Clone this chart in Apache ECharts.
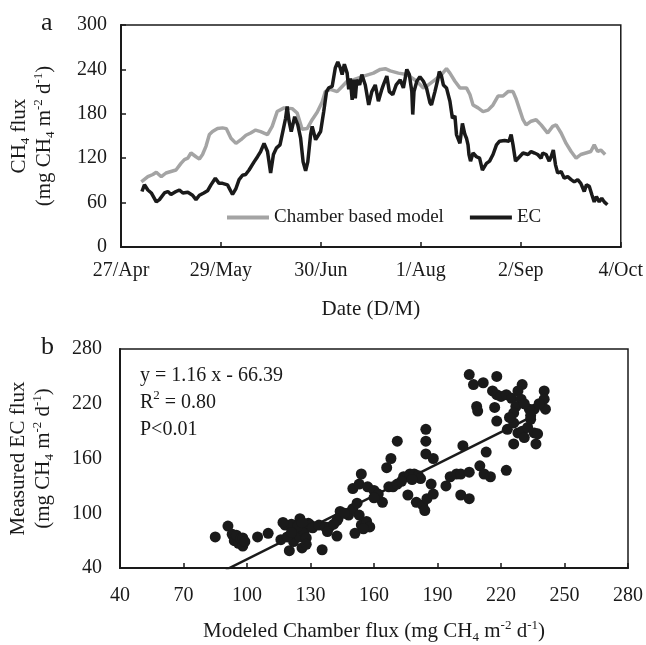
<!DOCTYPE html>
<html>
<head>
<meta charset="utf-8">
<script src="https://cdn.jsdelivr.net/npm/echarts@6/dist/echarts.min.js"></script>
<style>
html, body { margin: 0; padding: 0; background: #fff; }
#main { width: 646px; height: 645px; }
</style>
</head>
<body>
<div id="main"></div>
<script>
// days counted from 27/Apr
var dateLabels = ['27/Apr', '29/May', '30/Jun', '1/Aug', '2/Sep', '4/Oct'];

var chamberDay = [6.5, 8.6, 10.2, 11.3, 12.9, 14.4, 16.0, 17.6, 19.2, 20.3, 21.4, 22.4, 24.0, 25.1, 26.1, 27.2, 28.3, 29.3, 30.9, 32.5,
    33.7, 35.2, 36.8, 38.4, 40.0, 41.5, 43.1, 44.7, 46.9, 48.4, 50.0, 52.2, 54.8, 56.4, 58.0, 59.6, 61.2, 62.8, 64.4, 65.4,
    67.0, 69.2, 70.8, 72.4, 74.5, 77.7, 80.8, 83.0, 84.6, 86.2, 88.8, 91.5, 94.7, 96.8, 98.4, 100.5, 102.6, 104.2, 105.3, 106.9,
    108.5, 110.6, 111.7, 112.7, 114.3, 115.9, 117.5, 119.1, 120.7, 122.3, 123.9, 125.5, 126.5, 127.6, 128.7, 129.7, 131.3, 132.9, 134.5, 136.6,
    138.2, 139.3, 140.9, 142.5, 144.1, 145.7, 147.2, 148.8, 150.4, 151.5, 152.6, 153.6, 155.0];
var chamberFlux = [88, 95, 98, 101, 95, 100, 102, 104, 113, 118, 120, 127, 122, 119, 125, 136, 152, 156, 160, 161,
    160, 147, 140, 145, 151, 154, 158, 156, 152, 163, 183, 188, 187, 181, 159, 160, 172, 182, 196, 210,
    213, 210, 217, 224, 226, 231, 235, 240, 241, 238, 235, 233, 224, 215, 219, 226, 233, 241, 235, 224,
    215, 215, 206, 192, 188, 183, 185, 192, 204, 204, 210, 210, 200, 186, 172, 165, 170, 172, 165, 154,
    163, 165, 154, 140, 129, 120, 125, 127, 129, 138, 129, 131, 125];

var ecDay = [6.7, 7.5, 8.6, 9.7, 11.3, 12.3, 13.9, 15.0, 16.0, 17.6, 18.7, 19.8, 21.4, 22.9, 24.0, 25.1, 26.5, 27.7, 28.8, 30.2,
    31.4, 32.5, 34.1, 35.2, 35.7, 36.8, 37.8, 38.9, 39.9, 41.0, 42.6, 43.7, 44.7, 45.8, 46.9, 47.9, 48.8, 49.8, 50.9, 51.9,
    52.7, 53.2, 53.8, 54.5, 55.6, 56.6, 57.5, 58.3, 59.1, 59.8, 60.7, 61.2, 62.3, 63.3, 63.9, 64.9, 65.8, 66.5, 67.6, 68.6,
    69.4, 70.2, 70.8, 71.5, 72.4, 72.9, 73.4, 74.0, 74.5, 75.0, 75.5, 76.4, 77.1, 78.2, 79.3, 80.3, 81.4, 82.4, 83.5, 84.0,
    85.1, 85.9, 87.0, 88.1, 89.4, 90.4, 91.5, 92.3, 93.1, 93.4, 93.8, 94.7, 95.7, 96.8, 97.8, 98.9, 99.4, 100.5, 101.4, 101.9,
    102.6, 103.2, 104.2, 105.3, 106.1, 106.9, 107.4, 108.5, 109.3, 110.1, 110.6, 111.1, 111.4, 111.9, 112.7, 113.8, 114.8, 115.7, 117.0, 118.0,
    119.1, 120.2, 121.2, 122.8, 124.2, 124.9, 125.5, 126.3, 127.6, 128.7, 130.3, 131.3, 132.4, 133.4, 134.5, 135.0, 136.1, 137.1, 137.7, 138.4,
    139.1, 139.8, 140.9, 141.9, 143.0, 144.1, 145.1, 146.2, 147.2, 148.3, 149.0, 149.9, 150.8, 151.5, 152.2, 153.1, 153.9, 154.7, 155.7];
var ecFlux = [75, 84, 77, 73, 61, 64, 73, 75, 71, 75, 77, 73, 74, 70, 64, 70, 73, 76, 84, 93,
    86, 86, 84, 75, 71, 79, 91, 97, 98, 104, 115, 122, 129, 140, 129, 100, 125, 134, 138, 158,
    174, 190, 170, 156, 176, 165, 147, 115, 103, 115, 152, 163, 145, 152, 156, 183, 210, 215, 217, 242,
    250, 242, 233, 247, 235, 213, 228, 199, 226, 201, 226, 219, 233, 219, 192, 210, 219, 197, 213, 219,
    231, 210, 206, 219, 226, 215, 240, 233, 210, 179, 210, 224, 230, 224, 215, 195, 192, 210, 226, 237,
    231, 219, 215, 197, 174, 177, 152, 140, 167, 152, 147, 138, 125, 116, 127, 122, 120, 104, 113, 116,
    125, 138, 143, 144, 143, 152, 138, 116, 122, 127, 125, 129, 127, 125, 120, 127, 125, 116, 122, 131,
    111, 100, 102, 93, 95, 91, 88, 91, 86, 75, 84, 82, 70, 61, 68, 61, 66, 61, 57];

// panel b: modeled chamber flux (x) vs measured EC flux (y)
var modeledX = [85, 91, 93, 94, 95, 96, 97, 98, 98, 99, 105, 110,
    116, 118, 121, 120, 122, 123, 125, 125, 126, 127, 128, 129, 130, 131, 128, 124, 119, 121, 126, 117,
    134, 135.5, 137, 139, 142.5, 142.5, 144, 143, 148, 150, 152, 150, 153, 154, 153, 154, 156.5, 158, 151, 155, 157, 160, 162, 164, 160, 146, 138, 141,
    167, 169, 171, 166, 168, 171, 174, 177, 179, 181, 176, 180, 183, 184, 185, 188, 187, 184.5, 184.5, 184.5, 188, 182, 173, 178,
    194, 196, 199, 201, 202, 201, 205, 205, 205, 207, 211.6, 208.5, 209, 213, 210, 212, 215,
    218, 216, 218, 220, 222.5, 225, 230, 228, 229.5, 227, 217, 218, 222.5, 223, 226, 226, 228, 230, 231, 232.6, 234, 235.7, 235.7, 236.5, 237.3, 233.4, 234, 240.4, 240.4, 241, 226, 231, 238, 224];
var measuredY = [74, 86, 77, 70, 76, 67, 72, 64, 73, 69, 74, 78,
    71, 87, 88, 59, 69, 78, 74, 94, 62, 80, 73, 89, 87, 84, 66, 86, 74, 79, 90, 90,
    87, 60, 85, 85, 92, 75, 102, 94, 98, 105, 111, 127, 132, 143, 98, 87, 91, 85, 78, 83, 129, 125, 121, 112, 117, 100, 80, 88,
    129, 129, 132, 150, 160, 179, 140, 143, 143, 141, 120, 112, 109, 103, 116, 121, 132, 165, 179, 192, 160, 138, 135, 137,
    130, 140, 143, 143, 174, 120, 116, 145, 252, 241, 243, 217, 212, 167, 152, 143, 140,
    250, 234, 230, 228, 230, 226, 241, 234, 225, 217, 216, 201, 147, 192, 199, 176, 188, 190, 183, 194, 203, 214, 188, 176, 187, 214, 207, 234, 225, 214, 210, 220, 220, 205];

var fitSlope = 1.16;
var fitIntercept = -66.39;
var fitRange = [90, 232.5];

var serif = 'Liberation Serif';
var ink = '#1a1a1a';

var chartDom = document.getElementById('main');
var myChart = echarts.init(chartDom);

var richUnits = {
    n: { fontFamily: serif, fontSize: 21, color: ink, lineHeight: 25 },
    sub: { fontFamily: serif, fontSize: 13, color: ink, verticalAlign: 'bottom', lineHeight: 15 },
    sup: { fontFamily: serif, fontSize: 13, color: ink, verticalAlign: 'top', lineHeight: 15 }
};

var chamberData = chamberDay.map(function (d, i) { return [d, chamberFlux[i]]; });
var ecData = ecDay.map(function (d, i) { return [d, ecFlux[i]]; });
var scatterData = modeledX.map(function (x, i) { return [x, measuredY[i]]; });
var fitData = fitRange.map(function (x) { return [x, fitSlope * x + fitIntercept]; });

function frameAxis(extra) {
    var base = {
        axisLine: { show: true, onZero: false, lineStyle: { color: ink, width: 2 } },
        axisTick: { show: true, inside: true, length: 5, lineStyle: { color: ink, width: 1.5 } },
        splitLine: { show: false },
        axisLabel: { fontFamily: serif, fontSize: 20, color: ink },
        nameLocation: 'middle',
        nameTextStyle: { fontFamily: serif, fontSize: 21, color: ink, rich: richUnits }
    };
    for (var k in extra) {
        if (k === 'axisLabel') {
            for (var j in extra[k]) base.axisLabel[j] = extra[k][j];
        } else {
            base[k] = extra[k];
        }
    }
    return base;
}

var option = {
    animation: false,
    backgroundColor: '#fff',
    title: [
        { text: 'a', left: 36, top: 5, textStyle: { fontFamily: serif, fontSize: 26, fontWeight: 'normal', color: ink } },
        { text: 'b', left: 36, top: 329, textStyle: { fontFamily: serif, fontSize: 26, fontWeight: 'normal', color: ink } }
    ],
    grid: [
        { left: 121, top: 25, width: 502, height: 222, show: true, borderColor: ink, borderWidth: 1.5 },
        { left: 120, top: 349, width: 515, height: 221, show: true, borderColor: ink, borderWidth: 1.5 }
    ],
    legend: {
        data: ['Chamber based model', 'EC'],
        left: 222, top: 203,
        icon: 'rect',
        itemWidth: 42, itemHeight: 4, itemGap: 26,
        textStyle: { fontFamily: serif, fontSize: 19, color: ink }
    },
    xAxis: [
        frameAxis({
            gridIndex: 0, type: 'value', min: 0, max: 160, interval: 32,
            axisLabel: { margin: 14, formatter: function (v) { return dateLabels[Math.round(v / 32)]; } },
            name: 'Date (D/M)', nameGap: 52
        }),
        frameAxis({
            gridIndex: 1, type: 'value', min: 40, max: 280, interval: 30,
            axisLabel: { margin: 18 },
            name: '{n|Modeled Chamber flux (mg CH}{sub|4}{n| m}{sup|-2}{n| d}{sup|-1}{n|)}', nameGap: 51
        })
    ],
    yAxis: [
        frameAxis({
            gridIndex: 0, type: 'value', min: 0, max: 300, interval: 60,
            axisLabel: { margin: 14 },
            name: '{n|CH}{sub|4}{n| flux}\n{n|(mg CH}{sub|4}{n| m}{sup|-2}{n| d}{sup|-1}{n|)}', nameGap: 64
        }),
        frameAxis({
            gridIndex: 1, type: 'value', min: 40, max: 280, interval: 60,
            axisTick: { show: false },
            axisLabel: { margin: 18 },
            name: '{n|Measured EC flux}\n{n|(mg CH}{sub|4}{n| m}{sup|-2}{n| d}{sup|-1}{n|)}', nameGap: 64
        })
    ],
    graphic: [
        {
            type: 'text', left: 140, top: 366,
            style: {
                text: '{n|y = 1.16 x - 66.39}\n{n|R}{sup|2}{n| = 0.80}\n{n|P<0.01}',
                rich: {
                    n: { fontFamily: serif, fontSize: 20, fill: ink, lineHeight: 27 },
                    sup: { fontFamily: serif, fontSize: 13, fill: ink, verticalAlign: 'top', lineHeight: 20 }
                }
            }
        }
    ],
    series: [
        {
            name: 'Chamber based model', type: 'line', xAxisIndex: 0, yAxisIndex: 0,
            data: chamberData, showSymbol: false, symbol: 'none',
            color: '#a4a4a4', lineStyle: { width: 3.5, color: '#a4a4a4' }, z: 2
        },
        {
            name: 'EC', type: 'line', xAxisIndex: 0, yAxisIndex: 0,
            data: ecData, showSymbol: false, symbol: 'none',
            color: ink, lineStyle: { width: 3.5, color: ink }, z: 3
        },
        {
            name: 'fit', type: 'line', xAxisIndex: 1, yAxisIndex: 1,
            data: fitData, showSymbol: false, symbol: 'none',
            lineStyle: { width: 2.5, color: ink }, z: 2
        },
        {
            name: 'points', type: 'scatter', xAxisIndex: 1, yAxisIndex: 1,
            data: scatterData, symbolSize: 11,
            itemStyle: { color: ink, opacity: 1 }, z: 3
        }
    ]
};

option && myChart.setOption(option);
</script>
</body>
</html>
